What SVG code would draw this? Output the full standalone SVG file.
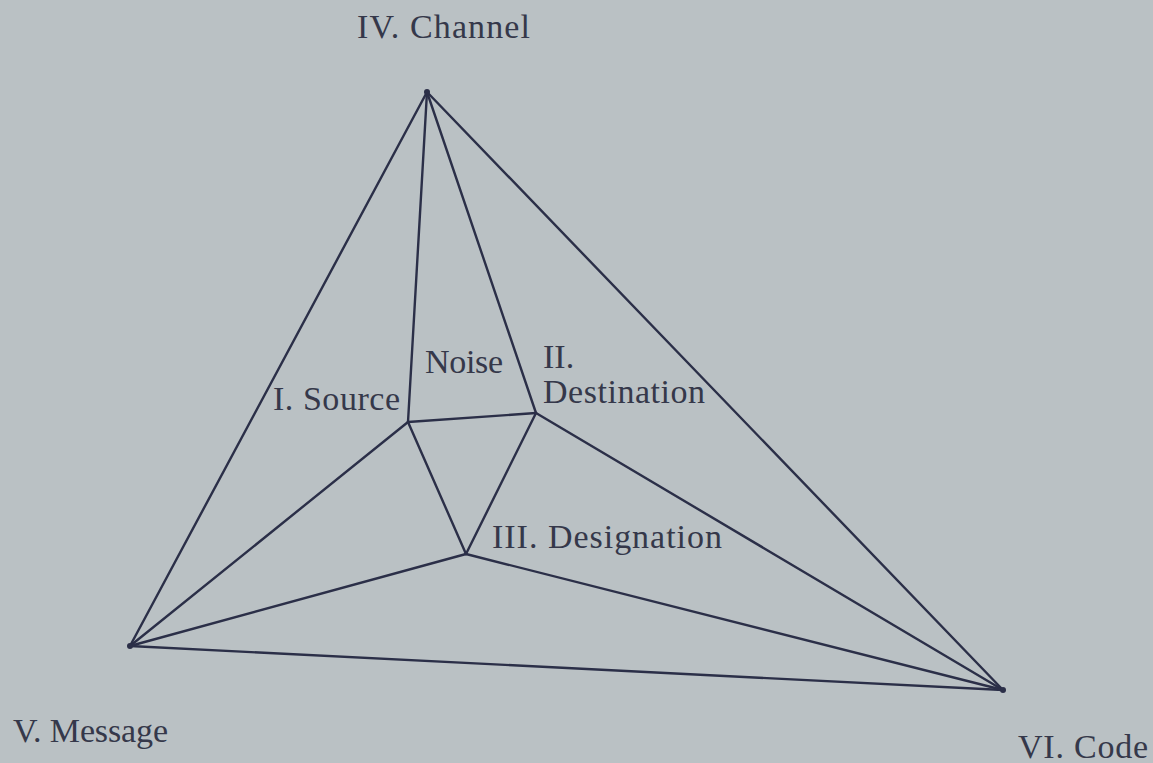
<svg xmlns="http://www.w3.org/2000/svg" width="1153" height="763" viewBox="0 0 1153 763">
<style>
.bg{fill:#bac1c4}
.e{stroke:#2b2f48;stroke-width:2.4;stroke-linecap:round;fill:none}
.t{font-family:"Liberation Serif","Times New Roman",serif;fill:#35384a;font-size:34px}
</style>
<rect class="bg" x="0" y="0" width="1153" height="763"/>
<g id="connectors">
<line class="e" x1="427" y1="92" x2="130" y2="646"/>
<line class="e" x1="427" y1="92" x2="1003" y2="690"/>
<line class="e" x1="427" y1="92" x2="408" y2="422"/>
<line class="e" x1="427" y1="92" x2="536" y2="413"/>
<line class="e" x1="130" y1="646" x2="1003" y2="690"/>
<line class="e" x1="130" y1="646" x2="408" y2="422"/>
<line class="e" x1="130" y1="646" x2="466" y2="554"/>
<line class="e" x1="1003" y1="690" x2="536" y2="413"/>
<line class="e" x1="1003" y1="690" x2="466" y2="554"/>
<line class="e" x1="408" y1="422" x2="536" y2="413"/>
<line class="e" x1="408" y1="422" x2="466" y2="554"/>
<line class="e" x1="536" y1="413" x2="466" y2="554"/>
</g>
<g id="channel"><circle cx="427" cy="92" r="3" fill="#2b2f48"/><text class="t" x="357" y="38" textLength="173">IV. Channel</text></g>
<g id="message"><circle cx="130" cy="646" r="3" fill="#2b2f48"/><text class="t" x="13" y="742" textLength="155">V. Message</text></g>
<g id="code"><circle cx="1003" cy="690" r="3" fill="#2b2f48"/><text class="t" x="1018" y="758" textLength="130">VI. Code</text></g>
<g id="source"><text class="t" x="273" y="410" textLength="127">I. Source</text></g>
<g id="noise"><text class="t" x="425" y="373" textLength="78">Noise</text></g>
<g id="destination"><text class="t" x="543" y="368">II.</text><text class="t" x="543" y="403" textLength="162">Destination</text></g>
<g id="designation"><text class="t" x="492" y="548" textLength="230">III. Designation</text></g>
</svg>
